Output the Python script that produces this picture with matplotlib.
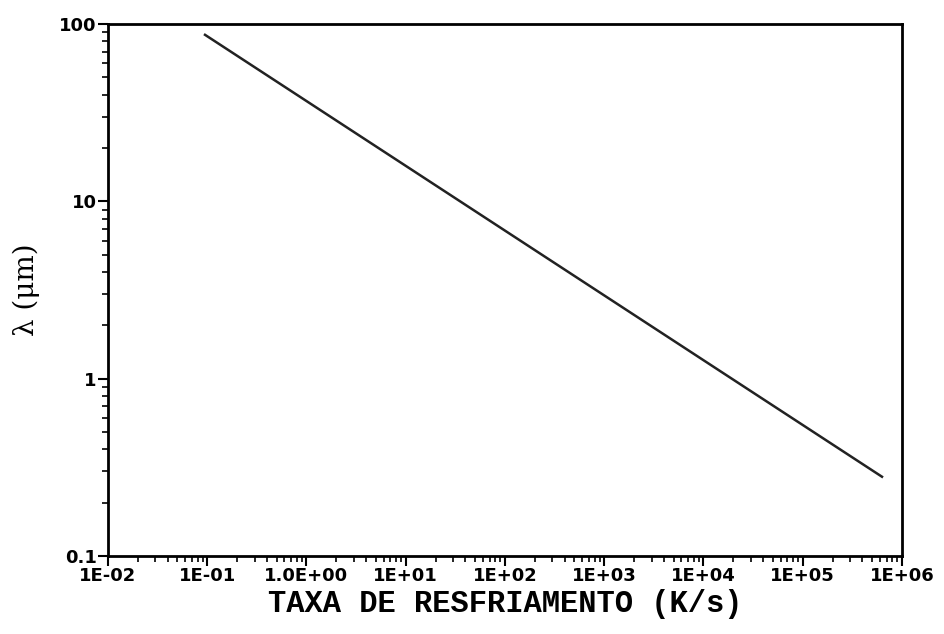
import matplotlib.pyplot as plt
from matplotlib.ticker import FixedLocator, LogLocator, NullFormatter

# cooling rate (K/s) and spacing lambda (um) at the ends of the fitted line
cooling_rate = [0.095, 6.3e5]
spacing_um = [87.0, 0.28]

x_ticks = [1e-2, 1e-1, 1e0, 1e1, 1e2, 1e3, 1e4, 1e5, 1e6]
x_tick_labels = ["1E-02", "1E-01", "1.0E+00", "1E+01", "1E+02",
                 "1E+03", "1E+04", "1E+05", "1E+06"]
y_ticks = [0.1, 1, 10, 100]
y_tick_labels = ["0.1", "1", "10", "100"]

fig = plt.figure(figsize=(9.44, 6.34), dpi=100)
ax = fig.add_axes([0.1144, 0.123, 0.841, 0.839])

ax.plot(cooling_rate, spacing_um, color="#222222", lw=1.8)

ax.set_xscale("log")
ax.set_yscale("log")
ax.set_xlim(1e-2, 1e6)
ax.set_ylim(0.1, 100)

ax.xaxis.set_major_locator(FixedLocator(x_ticks))
ax.set_xticklabels(x_tick_labels)
ax.yaxis.set_major_locator(FixedLocator(y_ticks))
ax.set_yticklabels(y_tick_labels)
ax.xaxis.set_minor_locator(LogLocator(base=10, subs=range(2, 10), numticks=20))
ax.yaxis.set_minor_locator(LogLocator(base=10, subs=range(2, 10), numticks=20))
ax.xaxis.set_minor_formatter(NullFormatter())
ax.yaxis.set_minor_formatter(NullFormatter())

ax.tick_params(axis="both", which="major", direction="out", length=7,
               width=1.5, color="black", labelsize=13, pad=1)
ax.tick_params(axis="both", which="minor", direction="out", length=4,
               width=1.2, color="black")
ax.tick_params(top=False, right=False)
for lbl in ax.get_xticklabels() + ax.get_yticklabels():
    lbl.set_fontweight("bold")
    lbl.set_family("DejaVu Sans")

for s in ax.spines.values():
    s.set_linewidth(2)
    s.set_color("black")

ax.set_xlabel("TAXA DE RESFRIAMENTO (K/s)", family="Liberation Mono",
              fontsize=22, fontweight="bold", labelpad=3)
ax.set_ylabel("λ (μm)", family="DejaVu Serif", fontsize=20, labelpad=14)

fig.savefig("out.png", dpi=100)
